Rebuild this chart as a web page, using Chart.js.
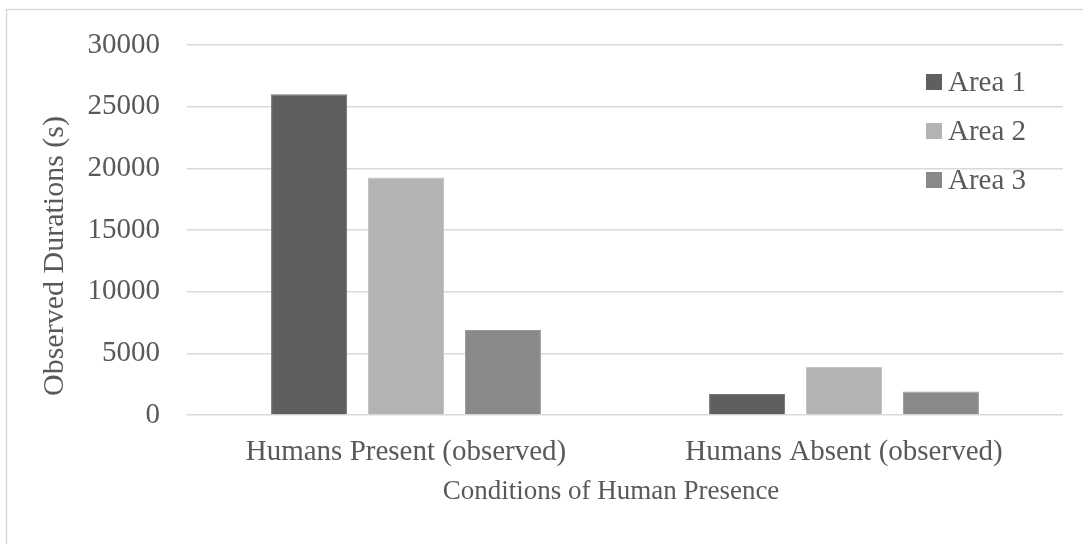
<!DOCTYPE html>
<html>
<head>
<meta charset="utf-8">
<script src="https://cdn.jsdelivr.net/npm/chart.js@4/dist/chart.umd.min.js"></script>
<style>
  html, body { margin: 0; padding: 0; background: #ffffff; }
  #wrap { position: relative; width: 1083px; height: 544px; }
</style>
</head>
<body>
<div id="wrap"><canvas id="chart"></canvas></div>
<script>
// Observed durations per area, grouped by human-presence condition
const categories = ['Humans Present (observed)', 'Humans Absent (observed)'];
const seriesNames = ['Area 1', 'Area 2', 'Area 3'];
const area1 = [26000, 1700];
const area2 = [19250, 3900];
const area3 = [6900, 1900];
const yTicks = [0, 5000, 10000, 15000, 20000, 25000, 30000];
const xTitle = 'Conditions of Human Presence';
const yTitle = 'Observed Durations (s)';

const fills = ['#5f5f5f', '#b3b3b3', '#898989'];
const edges = ['#767676', '#c4c4c4', '#9a9a9a'];
const textColor = '#595959';
const fontFamily = '"Liberation Serif", "Times New Roman", serif';
const labelSize = 29;

// Outer frame of the chart object
const framePlugin = {
  id: 'frame',
  beforeDraw(chart) {
    const ctx = chart.ctx;
    ctx.save();
    ctx.strokeStyle = '#d9d9d9';
    ctx.lineWidth = 1.5;
    ctx.strokeRect(6.5, 9.5, 1200, 700);
    ctx.restore();
  }
};

// Axis titles, placed as in the office-style layout
const axisTitles = {
  id: 'axisTitles',
  afterDraw(chart) {
    const ctx = chart.ctx;
    const area = chart.chartArea;
    ctx.save();
    ctx.fillStyle = textColor;
    ctx.textAlign = 'center';
    ctx.textBaseline = 'middle';
    ctx.font = '27px ' + fontFamily;
    ctx.fillText(xTitle, (area.left + area.right) / 2 - 14, 492);
    ctx.font = '30px ' + fontFamily;
    ctx.translate(55, (area.top + area.bottom) / 2 + 26);
    ctx.rotate(-Math.PI / 2);
    ctx.fillText(yTitle, 0, 0);
    ctx.restore();
  }
};

// Legend drawn inside the plot area, top right
const insideLegend = {
  id: 'insideLegend',
  afterDraw(chart) {
    const ctx = chart.ctx;
    ctx.save();
    ctx.font = labelSize + 'px ' + fontFamily;
    ctx.textBaseline = 'middle';
    ctx.textAlign = 'left';
    chart.data.datasets.forEach((ds, i) => {
      const cy = 82 + i * 49;
      ctx.fillStyle = ds.backgroundColor;
      ctx.fillRect(926, cy - 8, 16, 16);
      ctx.fillStyle = textColor;
      ctx.fillText(ds.label, 948, cy + 1);
    });
    ctx.restore();
  }
};

const datasets = [area1, area2, area3].map((vals, i) => ({
  label: seriesNames[i],
  data: vals,
  backgroundColor: fills[i],
  borderColor: edges[i],
  borderWidth: 1,
  categoryPercentage: 0.664,
  barPercentage: 0.784
}));

new Chart(document.getElementById('chart'), {
  type: 'bar',
  data: { labels: categories, datasets },
  options: {
    responsive: true,
    maintainAspectRatio: false,
    animation: false,
    layout: { padding: { left: 20, top: 45, right: 20, bottom: 0 } },
    plugins: {
      legend: { display: false },
      tooltip: { enabled: false }
    },
    scales: {
      x: {
        grid: { display: false },
        border: { display: false },
        ticks: {
          color: textColor,
          font: { family: fontFamily, size: labelSize },
          padding: 12,
          maxRotation: 0
        },
        afterFit(scale) { scale.height = 129; }
      },
      y: {
        min: 0,
        max: 30000,
        afterBuildTicks(scale) { scale.ticks = yTicks.map(v => ({ value: v })); },
        grid: { color: '#d9d9d9', lineWidth: 1.5, drawTicks: false },
        border: { display: false },
        ticks: {
          color: textColor,
          font: { family: fontFamily, size: labelSize },
          padding: 27,
          callback: (v) => String(v)
        },
        afterFit(scale) { scale.width = 167; }
      }
    }
  },
  plugins: [framePlugin, axisTitles, insideLegend]
});
</script>
</body>
</html>
